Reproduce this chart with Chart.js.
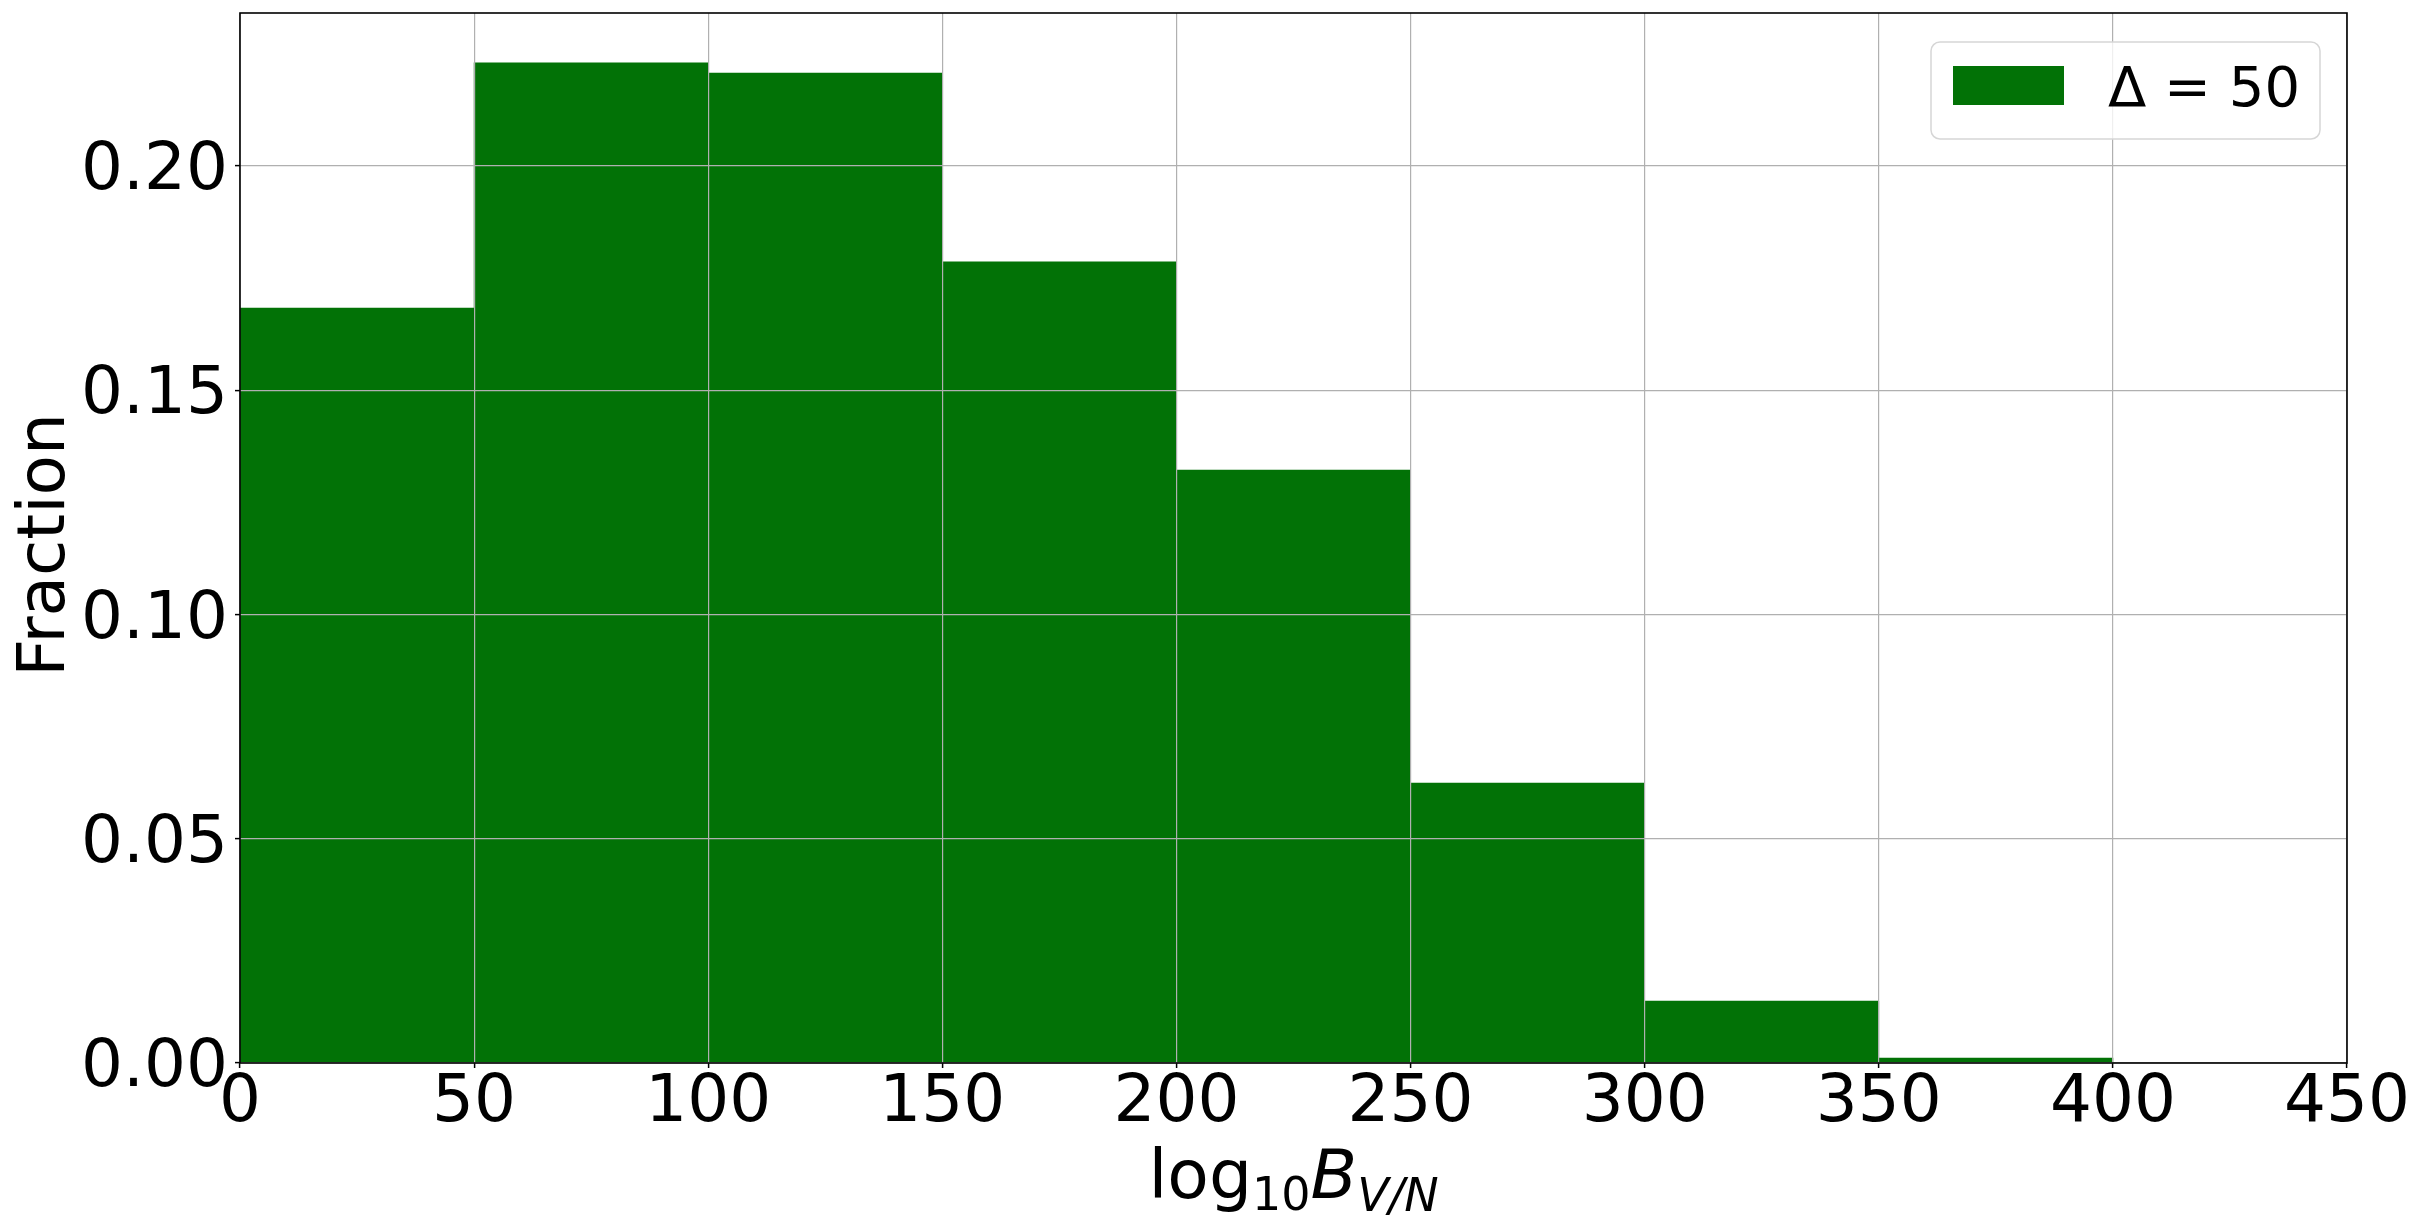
<!DOCTYPE html>
<html>
<head>
<meta charset="utf-8">
<script src="https://cdn.jsdelivr.net/npm/chart.js@4.4.0/dist/chart.umd.min.js"></script>
<style>
  html, body { margin: 0; padding: 0; background: #ffffff; }
  #wrap { width: 2420px; height: 1225px; }
</style>
</head>
<body>
<div id="wrap"><canvas id="c" width="2420" height="1225"></canvas></div>
<script>
// ---- data ----
const binStarts = [0, 50, 100, 150, 200, 250, 300, 350];
const binWidth = 50;
const fractions = [0.1683, 0.2230, 0.2207, 0.1786, 0.1322, 0.0624, 0.0138, 0.0011];
const seriesLabel = 'Δ = 50';
const xTicks = [0, 50, 100, 150, 200, 250, 300, 350, 400, 450];
const yTicks = [0.00, 0.05, 0.10, 0.15, 0.20];
const yLabel = 'Fraction';

const FONT = "'DejaVu Sans', sans-serif";
const GREEN = '#027206';
const GRID = '#b0b0b0';

const points = binStarts.map((s, i) => ({ x: s + binWidth / 2, y: fractions[i] }));

const framePlugin = {
  id: 'frame',
  afterDraw(chart) {
    const ctx = chart.ctx;
    const a = chart.chartArea;
    ctx.save();
    // spines
    ctx.strokeStyle = '#000000';
    ctx.lineWidth = 1.6;
    ctx.strokeRect(a.left, a.top, a.right - a.left, a.bottom - a.top);

    // legend
    const ds = chart.data.datasets[0];
    const bx = 1931, by = 42, bw = 389, bh = 97, r = 9;
    ctx.beginPath();
    ctx.moveTo(bx + r, by);
    ctx.lineTo(bx + bw - r, by);
    ctx.arcTo(bx + bw, by, bx + bw, by + r, r);
    ctx.lineTo(bx + bw, by + bh - r);
    ctx.arcTo(bx + bw, by + bh, bx + bw - r, by + bh, r);
    ctx.lineTo(bx + r, by + bh);
    ctx.arcTo(bx, by + bh, bx, by + bh - r, r);
    ctx.lineTo(bx, by + r);
    ctx.arcTo(bx, by, bx + r, by, r);
    ctx.closePath();
    ctx.fillStyle = 'rgba(255,255,255,0.8)';
    ctx.fill();
    ctx.strokeStyle = '#d6d6d6';
    ctx.lineWidth = 1.5;
    ctx.stroke();
    ctx.fillStyle = ds.backgroundColor;
    ctx.fillRect(1953, 66, 111, 39);
    ctx.fillStyle = '#000000';
    ctx.font = '56px ' + FONT;
    ctx.textAlign = 'left';
    ctx.textBaseline = 'alphabetic';
    ctx.fillText(ds.label, 2108, 106);

    // y-axis label
    ctx.save();
    ctx.translate(46.6, 545);
    ctx.rotate(-Math.PI / 2);
    ctx.font = '66px ' + FONT;
    ctx.textAlign = 'center';
    ctx.textBaseline = 'middle';
    ctx.fillText(yLabel, 0, 0);
    ctx.restore();

    // x-axis label: log_10 B_{V/N}
    const base = 1198;
    const parts = [
      { t: 'log', f: '68px ' + FONT, dy: 0 },
      { t: '10', f: '46px ' + FONT, dy: 12 },
      { t: 'B', f: 'italic 68px ' + FONT, dy: 0 },
      { t: 'V/N', f: 'italic 46px ' + FONT, dy: 13 }
    ];
    let total = 0;
    parts.forEach(p => { ctx.font = p.f; p.w = ctx.measureText(p.t).width; total += p.w; });
    let x = (a.left + a.right) / 2 - total / 2;
    ctx.textAlign = 'left';
    ctx.textBaseline = 'alphabetic';
    parts.forEach(p => {
      ctx.font = p.f;
      ctx.fillText(p.t, x, base + p.dy);
      x += p.w;
    });
    ctx.restore();
  }
};

new Chart(document.getElementById('c'), {
  type: 'bar',
  data: {
    datasets: [{
      label: seriesLabel,
      data: points,
      backgroundColor: GREEN,
      borderWidth: 0,
      barPercentage: 1.0,
      categoryPercentage: 1.0
    }]
  },
  options: {
    responsive: false,
    animation: false,
    devicePixelRatio: 1,
    layout: { padding: { top: 13, right: 73, left: 0, bottom: 0 } },
    plugins: { legend: { display: false }, tooltip: { enabled: false } },
    scales: {
      x: {
        type: 'linear',
        min: xTicks[0],
        max: xTicks[xTicks.length - 1],
        offset: false,
        afterBuildTicks: (s) => { s.ticks = xTicks.map(v => ({ value: v })); },
        afterFit: (s) => { s.height = 162; s.paddingLeft = 0; s.paddingRight = 0; s.paddingTop = 0; s.paddingBottom = 0; },
        ticks: {
          autoSkip: false,
          maxRotation: 0,
          padding: 3,
          color: '#000000',
          font: { family: FONT, size: 66, lineHeight: 1.0 },
          callback: (v) => String(v)
        },
        grid: { offset: false, z: 1, color: GRID, lineWidth: 1.2, tickLength: 5, tickColor: '#000000', tickWidth: 1.5 },
        border: { display: false },
        title: { display: false }
      },
      y: {
        type: 'linear',
        min: 0,
        max: 0.2341,
        afterBuildTicks: (s) => { s.ticks = yTicks.map(v => ({ value: v })); },
        afterFit: (s) => { s.width = 240; s.paddingLeft = 0; s.paddingRight = 0; s.paddingTop = 0; s.paddingBottom = 0; },
        ticks: {
          padding: 7,
          labelOffset: 6,
          color: '#000000',
          font: { family: FONT, size: 66, lineHeight: 1.0 },
          callback: (v) => Number(v).toFixed(2)
        },
        grid: { z: 1, color: GRID, lineWidth: 1.2, tickLength: 5, tickColor: '#000000', tickWidth: 1.5 },
        border: { display: false },
        title: { display: false }
      }
    }
  },
  plugins: [framePlugin]
});
</script>
</body>
</html>
